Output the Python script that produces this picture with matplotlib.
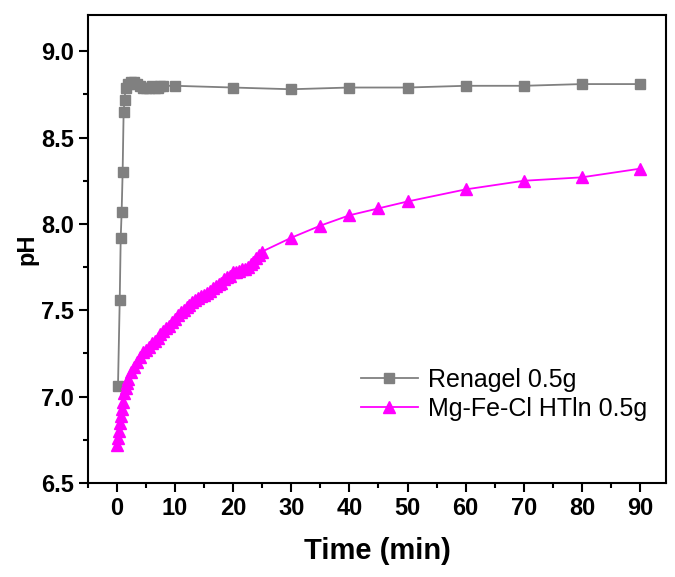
import numpy as np
import matplotlib
matplotlib.use("Agg")
import matplotlib.pyplot as plt
from matplotlib.ticker import MultipleLocator

# Renagel 0.5g
renagel_t = [0.2, 0.5, 0.67, 0.83, 1.0, 1.17, 1.33, 1.5, 2.0, 2.5, 3.0, 3.5, 4.0,
             4.5, 5.0, 5.5, 6.0, 6.5, 7.0, 7.5, 8.0, 10, 20, 30, 40, 50, 60, 70, 80, 90]
renagel_ph = [7.06, 7.56, 7.92, 8.07, 8.30, 8.65, 8.72, 8.79, 8.81, 8.82, 8.82, 8.81, 8.80,
              8.79, 8.79, 8.79, 8.80, 8.79, 8.79, 8.80, 8.80, 8.80, 8.79, 8.78, 8.79, 8.79,
              8.80, 8.80, 8.81, 8.81]

# Mg-Fe-Cl HTln 0.5g
htln_t = [0, 0.17, 0.33, 0.5, 0.67, 0.83, 1.0, 1.25, 1.5, 1.75, 2.0, 2.5, 3.0, 3.5, 4.0,
          4.5, 5.0, 5.5, 6.0, 6.5, 7.0, 7.5, 8.0, 8.5, 9.0, 9.5, 10.0, 10.5, 11.0, 11.5,
          12.0, 12.5, 13.0, 13.5, 14.0, 14.5, 15.0, 15.5, 16.0, 16.5, 17.0, 17.5, 18.0,
          18.5, 19.0, 19.5, 20.0, 20.5, 21.0, 21.5, 22.0, 22.5, 23.0, 23.5, 24.0, 24.5,
          25, 30, 35, 40, 45, 50, 60, 70, 80, 90]
htln_ph = [6.72, 6.76, 6.80, 6.85, 6.89, 6.93, 6.97, 7.02, 7.05, 7.08, 7.10, 7.14, 7.17,
           7.20, 7.23, 7.26, 7.27, 7.29, 7.31, 7.32, 7.34, 7.36, 7.38, 7.40, 7.41, 7.43,
           7.45, 7.47, 7.49, 7.50, 7.52, 7.53, 7.55, 7.56, 7.57, 7.58, 7.59, 7.60, 7.61,
           7.63, 7.64, 7.65, 7.66, 7.68, 7.69, 7.70, 7.72, 7.72, 7.73, 7.74, 7.74, 7.75,
           7.77, 7.78, 7.80, 7.82, 7.84, 7.92, 7.99, 8.05, 8.09, 8.13, 8.20, 8.25, 8.27,
           8.32]

x_ticks = [0, 10, 20, 30, 40, 50, 60, 70, 80, 90]
y_ticks = [6.5, 7.0, 7.5, 8.0, 8.5, 9.0]

plt.rcParams['font.family'] = ['Liberation Sans', 'DejaVu Sans']

fig = plt.figure(figsize=(6.75, 5.77), dpi=100)
ax = fig.add_axes([0.130, 0.163, 0.857, 0.811])

ax.plot(renagel_t, renagel_ph, '-s', color='#808080', markersize=7.5, linewidth=1.3,
        label='Renagel 0.5g')
ax.plot(htln_t, htln_ph, '-^', color='#ff00ff', markersize=9, linewidth=1.3,
        label='Mg-Fe-Cl HTln 0.5g')

ax.set_xlim(-5, 94.5)
ax.set_ylim(6.5, 9.21)
ax.set_xticks(x_ticks)
ax.set_yticks(y_ticks)
ax.xaxis.set_minor_locator(MultipleLocator(5))
ax.yaxis.set_minor_locator(MultipleLocator(0.25))
ax.set_yticklabels(['%.1f' % v for v in y_ticks])

for s in ax.spines.values():
    s.set_linewidth(1.5)
ax.tick_params(which='major', direction='out', length=6.5, width=1.5, labelsize=17)
ax.tick_params(which='minor', direction='out', length=3.5, width=1.5)
for lab in ax.get_xticklabels() + ax.get_yticklabels():
    lab.set_fontweight('bold')

ax.set_xlabel('Time (min)', fontsize=21, fontweight='bold', labelpad=12)
ax.set_ylabel('pH', fontsize=17, fontweight='bold', labelpad=2)

ax.legend(loc='center right', bbox_to_anchor=(0.967, 0.19), frameon=False,
          fontsize=18, handlelength=2.3, handletextpad=0.4, labelspacing=0.2,
          borderpad=0, borderaxespad=0)

fig.savefig('out.png')
